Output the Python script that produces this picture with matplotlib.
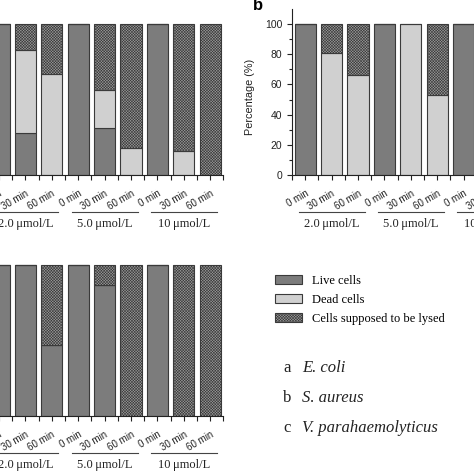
import numpy as np
import matplotlib as mpl
mpl.use('Agg')
import matplotlib.pyplot as plt
import matplotlib.transforms as mtransforms

# ----------------
# Data (percent of cells)
# ----------------
times = ['0 min', '30 min', '60 min'] * 3
groups = ['2.0\u2009\u03bcmol/L', '5.0\u2009\u03bcmol/L', '10\u2009\u03bcmol/L']

# a: E. coli
live_a = [100, 28, 0, 100, 31, 0, 100, 0, 0]
dead_a = [0, 55, 67, 0, 25, 18, 0, 16, 0]
lysed_a = [0, 17, 33, 0, 44, 82, 0, 84, 100]

# b: S. aureus (last two bars are outside the crop)
live_b = [100, 0, 0, 100, 0, 0, 100, 0, 0]
dead_b = [0, 81, 66, 0, 100, 53, 0, 40, 0]
lysed_b = [0, 19, 34, 0, 0, 47, 0, 60, 100]

# c: V. parahaemolyticus
live_c = [100, 100, 47, 100, 87, 0, 100, 0, 0]
dead_c = [0, 0, 0, 0, 0, 0, 0, 0, 0]
lysed_c = [0, 0, 53, 0, 13, 100, 0, 100, 100]

legend_labels = ['Live cells', 'Dead cells', 'Cells supposed to be lysed']
species = [('a', 'E. coli'), ('b', 'S. aureus'), ('c', 'V. parahaemolyticus')]

live_col = '#7c7c7c'
dead_col = '#d0d0d0'
lysed_col = '#9a9a9a'
edge_col = '#3a3a3a'

plt.rcParams['hatch.linewidth'] = 0.4
plt.rcParams['font.family'] = 'Liberation Sans'

fig = plt.figure(figsize=(4.74, 4.74), dpi=100)

W = 474.0
axw = 237.6 / W
axh = 166.1 / W
ax_a = fig.add_axes([-14.2 / W, 1 - 175 / W, axw, axh])
ax_b = fig.add_axes([292 / W, 1 - 175 / W, axw, axh])
ax_c = fig.add_axes([-14.2 / W, 1 - 416 / W, axw, axh])

# nudge rotated tick labels a little to the right, like the original
shift = mtransforms.ScaledTranslation(2.5 / 100, 0, fig.dpi_scale_trans)


def draw_panel(ax, live, dead, lysed):
    x = np.arange(len(live))
    live = np.array(live)
    dead = np.array(dead)
    lysed = np.array(lysed)
    b1 = ax.bar(x, live, 0.81, color=live_col, edgecolor=edge_col, linewidth=0.8)
    b2 = ax.bar(x, dead, 0.81, bottom=live, color=dead_col, edgecolor=edge_col, linewidth=0.8)
    b3 = ax.bar(x, lysed, 0.81, bottom=live + dead, color=lysed_col, edgecolor=edge_col,
                linewidth=0.8, hatch='x' * 12)
    ax.set_xlim(-0.5, 8.5)
    ax.set_ylim(0, 110)
    for s in ['top', 'right']:
        ax.spines[s].set_visible(False)
    ax.spines['bottom'].set_color('#222222')
    ax.spines['left'].set_color('#222222')
    ax.set_xticks(x)
    ax.set_xticklabels(times, rotation=30, ha='right', rotation_mode='anchor',
                       fontsize=7, color='#222222')
    for lab in ax.get_xticklabels():
        lab.set_transform(lab.get_transform() + shift)
    ax.set_xticks(np.arange(-0.5, 9, 1), minor=True)
    ax.tick_params(axis='x', which='both', direction='out', length=3.5, width=0.8,
                   pad=6, colors='#222222')
    ax.set_yticks([0, 20, 40, 60, 80, 100])
    ax.set_yticks([10, 30, 50, 70, 90], minor=True)
    ax.tick_params(axis='y', which='major', direction='out', length=3.5, width=0.8,
                   labelsize=7.5, colors='#222222')
    ax.tick_params(axis='y', which='minor', direction='out', length=2, width=0.8,
                   colors='#222222')
    trans = mtransforms.blended_transform_factory(ax.transData, ax.transAxes)
    for g, name in enumerate(groups):
        start = g * 3
        ax.plot([start - 0.25, start + 2.25], [-0.221, -0.221], color='#444444',
                linewidth=0.8, transform=trans, clip_on=False)
        ax.text(start + 1, -0.295, name, transform=trans, ha='center', va='center',
                fontsize=9, family='Liberation Serif', color='#222222')
    return b1, b2, b3


handles = draw_panel(ax_a, live_a, dead_a, lysed_a)
draw_panel(ax_b, live_b, dead_b, lysed_b)
draw_panel(ax_c, live_c, dead_c, lysed_c)

ax_b.set_ylabel('Percentage (%)', fontsize=7.8, color='#222222')
ax_b.yaxis.set_label_coords(-0.156, 0.47)
fig.text(253 / W, 1.005, 'b', fontsize=12, fontweight='bold', ha='left', va='top')

fig.legend(handles, legend_labels, loc='upper left', bbox_to_anchor=(275 / W, 1 - 275 / W),
           frameon=False, prop={'family': 'Liberation Serif', 'size': 9},
           handlelength=2.15, handleheight=0.72, handletextpad=0.85, labelspacing=0.55,
           borderpad=0, borderaxespad=0)

for i, (letter, name) in enumerate(species):
    y = 1 - (368 + 30 * i) / W
    fig.text(283 / W, y, letter, fontsize=12, family='Liberation Serif', va='center',
             color='#222222')
    fig.text(302 / W, y, name, fontsize=12, family='Liberation Serif', style='italic',
             va='center', color='#222222')

fig.savefig('out.png', dpi=100)
